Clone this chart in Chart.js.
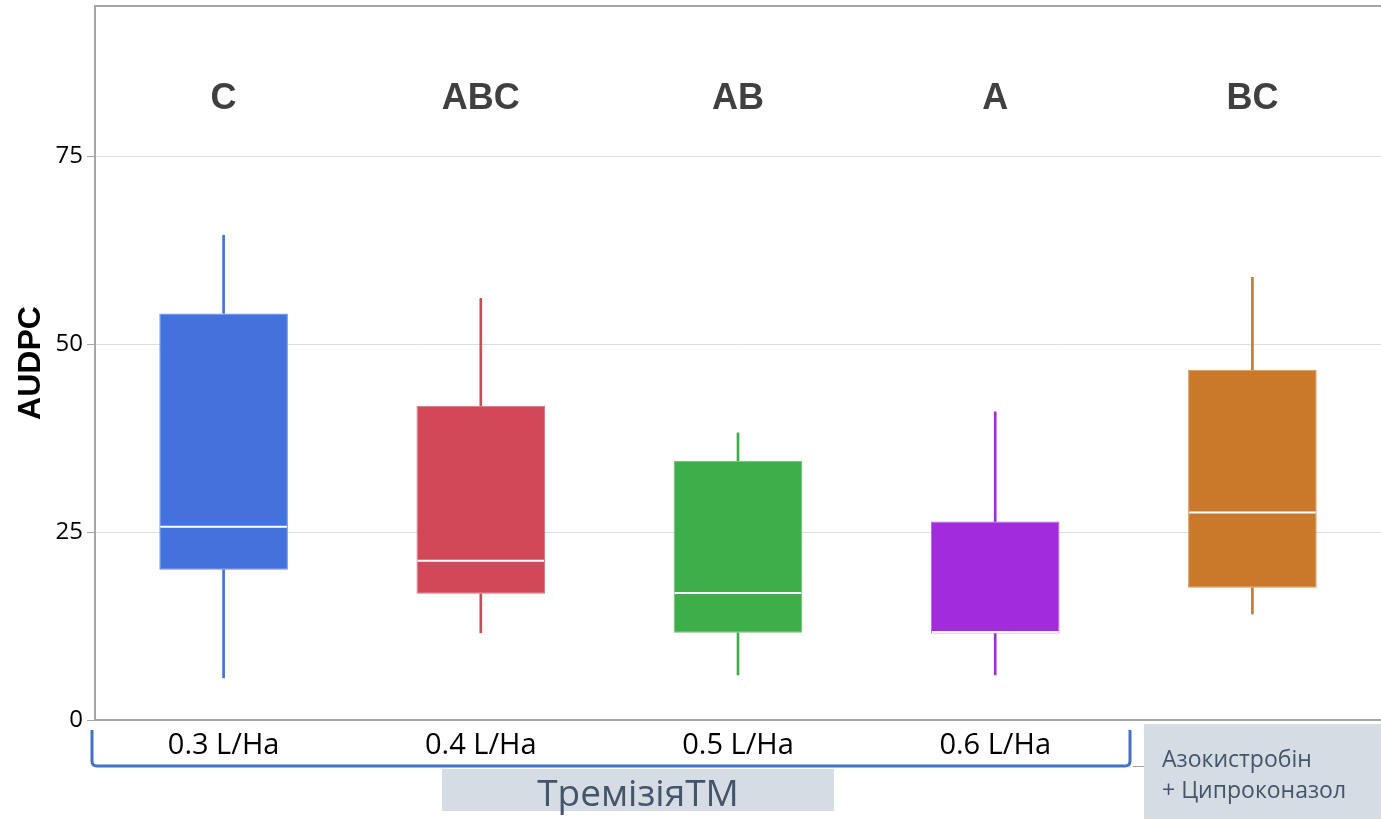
<!DOCTYPE html>
<html>
<head>
<meta charset="utf-8">
<script src="https://cdn.jsdelivr.net/npm/chart.js@4/dist/chart.umd.min.js"></script>
<style>
  html, body { margin: 0; padding: 0; background: #ffffff; }
  #wrap { position: relative; width: 1381px; height: 819px; }
</style>
</head>
<body>
<div id="wrap"><canvas id="c" width="1381" height="819"></canvas></div>
<script>
const categories = ['0.3 L/Ha', '0.4 L/Ha', '0.5 L/Ha', '0.6 L/Ha', ''];
const whiskerMin = [5.6, 11.6, 6.0, 6.0, 14.1];
const q1 = [20.0, 16.8, 11.6, 11.5, 17.6];
const median = [25.7, 21.2, 16.9, 11.7, 27.6];
const q3 = [54.1, 41.8, 34.5, 26.4, 46.6];
const whiskerMax = [64.5, 56.1, 38.2, 41.0, 58.9];
const groupLetters = ['C', 'ABC', 'AB', 'A', 'BC'];
const letterLevel = 82.6;
const yTicks = [0, 25, 50, 75];
const boxColors = ['#4372DD', '#D14958', '#3DAE48', '#A22BDE', '#CA782A'];
const boxBorders = ['#6A90E6', '#DC7380', '#67C170', '#B862E6', '#D89558'];
const groupLabel = 'ТремізіяТМ';
const refLabelLines = ['Азокистробін', '+ Ципроконазол'];

const overlayPlugin = {
  id: 'overlay',
  afterDatasetsDraw(chart) {
    const ctx = chart.ctx;
    const xs = chart.scales.x, ys = chart.scales.y;
    const area = chart.chartArea;
    ctx.save();
    const meta = chart.getDatasetMeta(2);
    median.forEach((m, i) => {
      const bar = meta.data[i];
      const half = bar.width / 2;
      const y = ys.getPixelForValue(m);
      ctx.strokeStyle = '#ffffff';
      ctx.lineWidth = 2;
      ctx.beginPath();
      ctx.moveTo(bar.x - half + 1, y);
      ctx.lineTo(bar.x + half - 1, y);
      ctx.stroke();
    });
    ctx.fillStyle = '#404040';
    ctx.font = 'bold 36px "Liberation Sans", Arial, sans-serif';
    ctx.textAlign = 'center';
    ctx.textBaseline = 'middle';
    groupLetters.forEach((t, i) => {
      ctx.fillText(t, xs.getPixelForValue(i), ys.getPixelForValue(letterLevel));
    });
    ctx.strokeStyle = '#A6A6A6';
    ctx.lineWidth = 2;
    ctx.beginPath();
    ctx.moveTo(area.left - 1, area.top);
    ctx.lineTo(area.right, area.top);
    ctx.stroke();
    ctx.restore();
  },
  afterDraw(chart) {
    const ctx = chart.ctx;
    const area = chart.chartArea;
    ctx.save();
    const bl = area.left - 3, br = 1130, bt = 730, bb = 766, r = 5;
    ctx.strokeStyle = '#4472C4';
    ctx.lineWidth = 3;
    ctx.beginPath();
    ctx.moveTo(bl, bt);
    ctx.lineTo(bl, bb - r);
    ctx.quadraticCurveTo(bl, bb, bl + r, bb);
    ctx.lineTo(br - r, bb);
    ctx.quadraticCurveTo(br, bb, br, bb - r);
    ctx.lineTo(br, bt);
    ctx.stroke();
    ctx.strokeStyle = '#A6A6A6';
    ctx.lineWidth = 1;
    ctx.beginPath();
    ctx.moveTo(1133, 766.5);
    ctx.lineTo(1144, 766.5);
    ctx.stroke();
    ctx.fillStyle = '#D6DCE4';
    ctx.fillRect(442, 769, 392, 42);
    ctx.fillStyle = '#44546A';
    ctx.font = '37px "Open Sans", sans-serif';
    ctx.textAlign = 'center';
    ctx.textBaseline = 'alphabetic';
    ctx.fillText(groupLabel, 638, 806);
    ctx.fillStyle = '#D6DCE4';
    ctx.fillRect(1144, 724, 237, 95);
    ctx.fillStyle = '#44546A';
    ctx.font = '23px "Open Sans", sans-serif';
    ctx.textAlign = 'left';
    ctx.fillText(refLabelLines[0], 1162, 767);
    ctx.fillText(refLabelLines[1], 1162, 798);
    ctx.restore();
  }
};

new Chart(document.getElementById('c'), {
  type: 'bar',
  data: {
    labels: categories,
    datasets: [
      {
        label: 'lower whisker',
        data: whiskerMin.map((v, i) => [v, q1[i]]),
        backgroundColor: boxColors,
        barThickness: 2,
        grouped: false,
        order: 3
      },
      {
        label: 'upper whisker',
        data: q3.map((v, i) => [v, whiskerMax[i]]),
        backgroundColor: boxColors,
        barThickness: 2,
        grouped: false,
        order: 2
      },
      {
        label: 'box',
        data: q1.map((v, i) => [v, q3[i]]),
        backgroundColor: boxColors,
        borderColor: boxBorders,
        borderWidth: 1,
        borderSkipped: false,
        barPercentage: 0.5,
        categoryPercentage: 1.0,
        grouped: false,
        order: 1
      }
    ]
  },
  options: {
    responsive: false,
    animation: false,
    layout: { padding: { top: 6, right: 0, left: 0, bottom: 0 } },
    plugins: { legend: { display: false }, tooltip: { enabled: false } },
    scales: {
      x: {
        grid: { display: false, drawTicks: false },
        border: { display: true, color: '#A6A6A6', width: 2 },
        ticks: {
          color: '#000000',
          font: { family: '"Open Sans", sans-serif', size: 29 },
          padding: 8,
          maxRotation: 0
        },
        afterFit(scale) { scale.height = 99; scale.paddingLeft = 0; scale.paddingRight = 0; }
      },
      y: {
        min: 0,
        max: 95,
        afterBuildTicks(scale) { scale.ticks = yTicks.map(v => ({ value: v })); },
        grid: { color: '#DDDDDD', lineWidth: 1, tickLength: 8, tickColor: '#A6A6A6' },
        border: { display: true, color: '#A6A6A6', width: 2 },
        ticks: {
          color: '#000000',
          font: { family: '"Open Sans", sans-serif', size: 24 },
          padding: 4
        },
        title: {
          display: true,
          text: 'AUDPC',
          color: '#000000',
          font: { family: '"Liberation Sans", Arial, sans-serif', size: 32, weight: 'bold' },
          padding: { top: 12, bottom: 0 }
        },
        afterFit(scale) { scale.width = 95; scale.paddingTop = 0; scale.paddingBottom = 0; }
      }
    }
  },
  plugins: [overlayPlugin]
});
</script>
</body>
</html>
